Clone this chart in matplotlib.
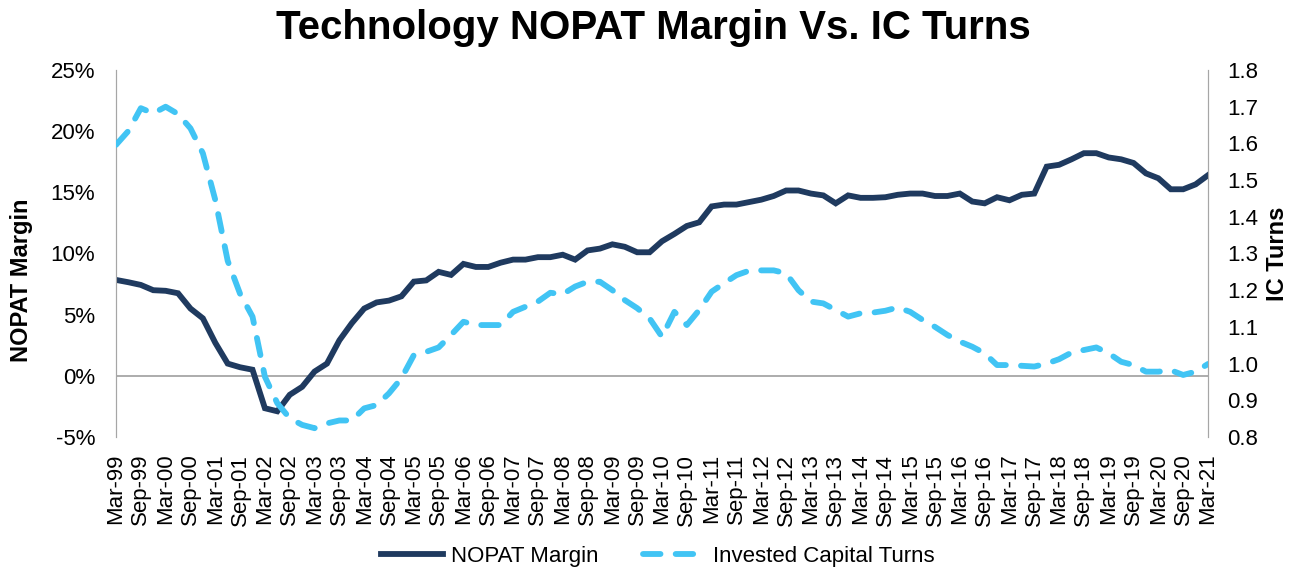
import matplotlib.pyplot as plt
import numpy as np

plt.rcParams["font.family"] = ["Liberation Sans", "DejaVu Sans"]

# quarterly labels Mar-99 .. Mar-21
months = ["Mar", "Jun", "Sep", "Dec"]
quarters = [f"{m}-{y % 100:02d}" for y in range(1999, 2022) for m in months][:89]

nopat_margin = [
    7.84, 7.65, 7.43, 7.0, 6.95, 6.75, 5.5, 4.7, 2.7, 1.0,
    0.7, 0.5, -2.65, -2.9, -1.55, -0.9, 0.35, 1.0, 2.9, 4.3,
    5.5, 6.0, 6.15, 6.5, 7.7, 7.8, 8.5, 8.25, 9.15, 8.9,
    8.9, 9.25, 9.5, 9.5, 9.7, 9.7, 9.9, 9.5, 10.25, 10.4,
    10.75, 10.55, 10.1, 10.1, 11.0, 11.6, 12.25, 12.55, 13.85, 14.0,
    14.0, 14.2, 14.4, 14.7, 15.15, 15.15, 14.9, 14.75, 14.1, 14.75,
    14.55, 14.55, 14.6, 14.8, 14.9, 14.9, 14.7, 14.7, 14.9, 14.25,
    14.1, 14.6, 14.35, 14.8, 14.9, 17.1, 17.25, 17.7, 18.2, 18.2,
    17.85, 17.7, 17.4, 16.55, 16.15, 15.25, 15.25, 15.65, 16.4,
]

ic_turns = [
    1.596, 1.634, 1.696, 1.682, 1.70, 1.68, 1.641, 1.573, 1.446, 1.28,
    1.19, 1.128, 0.964, 0.892, 0.851, 0.833, 0.824, 0.837, 0.845, 0.845,
    0.878, 0.887, 0.919, 0.96, 1.023, 1.032, 1.044, 1.078, 1.114, 1.105,
    1.105, 1.105, 1.141, 1.155, 1.169, 1.193, 1.189, 1.21, 1.223, 1.223,
    1.20, 1.173, 1.151, 1.123, 1.073, 1.141, 1.105, 1.146, 1.196, 1.219,
    1.241, 1.253, 1.254, 1.254, 1.246, 1.20, 1.169, 1.164, 1.146, 1.128,
    1.137, 1.139, 1.144, 1.153, 1.141, 1.119, 1.10, 1.078, 1.06, 1.046,
    1.028, 0.996, 0.996, 0.994, 0.992, 1.0, 1.012, 1.03, 1.037, 1.044,
    1.028, 1.005, 0.996, 0.978, 0.978, 0.982, 0.969, 0.978, 0.999,
]

navy = "#1f3a5f"
sky = "#41c4f4"
grey = "#a6a6a6"

fig = plt.figure(figsize=(13.02, 5.71), dpi=100)
ax = fig.add_axes([0.0891, 0.2347, 0.8387, 0.6427])
ax2 = ax.twinx()

x = np.arange(len(quarters))
l1, = ax.plot(x, nopat_margin, color=navy, lw=4.2, solid_joinstyle="miter",
              label="NOPAT Margin", zorder=3)
l2, = ax2.plot(x, ic_turns, color=sky, lw=4.2, linestyle=(0, (3.0, 2.6)),
               dash_capstyle="round", label="Invested Capital Turns", zorder=3)

ax.set_xlim(0, len(quarters) - 1)
ax.set_ylim(-5, 25)
ax2.set_ylim(0.8, 1.8)

ax.set_yticks(np.arange(-5, 26, 5))
ax.set_yticklabels([f"{v}%" for v in range(-5, 26, 5)])
ax2.set_yticks(np.arange(0.8, 1.81, 0.1))
ax2.set_yticklabels([f"{v:.1f}" for v in np.arange(0.8, 1.81, 0.1)])

ax.set_xticks(x[::2])
ax.set_xticklabels(quarters[::2], rotation=90)

for a in (ax, ax2):
    for s in ("top", "bottom"):
        a.spines[s].set_visible(False)
    a.spines["left"].set_color(grey)
    a.spines["right"].set_color(grey)
    a.tick_params(length=0, labelsize=16, colors="black")
ax.tick_params(axis="y", pad=15)
ax2.tick_params(axis="y", pad=14)
ax.tick_params(axis="x", pad=12)
ax.axhline(0, color=grey, lw=1.3, zorder=1)

ax.set_ylabel("NOPAT Margin", fontsize=17, fontweight="bold", va="center")
ax.yaxis.set_label_coords(-0.0861, 0.428)
ax2.set_ylabel("IC Turns", fontsize=17, fontweight="bold", va="center")
ax2.yaxis.set_label_coords(1.0641, 0.5)

fig.suptitle("Technology NOPAT Margin Vs. IC Turns", fontsize=29,
             fontweight="bold", x=0.502, y=0.985)

fig.legend(handles=[l1, l2], loc="center", bbox_to_anchor=(0.505, 0.026),
           ncol=2, frameon=False, fontsize=16, handlelength=2.8,
           handletextpad=0.35, columnspacing=2.0)

fig.savefig("out.png", dpi=100)
